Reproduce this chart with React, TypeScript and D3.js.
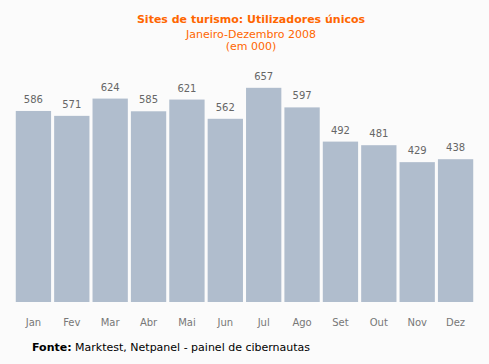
import React from "react";
import * as d3 from "d3";

const months = ["Jan", "Fev", "Mar", "Abr", "Mai", "Jun", "Jul", "Ago", "Set", "Out", "Nov", "Dez"];
const visitors = [586, 571, 624, 585, 621, 562, 657, 597, 492, 481, 429, 438];
const titleLines = ["Sites de turismo: Utilizadores únicos", "Janeiro-Dezembro 2008", "(em 000)"];

const W = 489;
const H = 364;
const FONT = "Verdana, 'DejaVu Sans', sans-serif";

export default function App() {
  const x = d3.scaleBand<string>().domain(months).range([15, 474]).paddingInner(0.08).paddingOuter(0.02);
  const y = d3.scaleLinear().domain([0, 700]).range([302, 302 - 700 * 0.326]);
  return (
    <svg width={W} height={H} style={{ position: "absolute", left: 0, top: 0, background: "#fbfbfb" }}>
      <rect x={0} y={0} width={W} height={H} fill="#fbfbfb" />
      <text x={251} y={23} textAnchor="middle" fontFamily={FONT} fontSize={11} fontWeight="bold" fill="#ff6600">{titleLines[0]}</text>
      <text x={251} y={38} textAnchor="middle" fontFamily={FONT} fontSize={11} fill="#ff6600">{titleLines[1]}</text>
      <text x={251} y={50} textAnchor="middle" fontFamily={FONT} fontSize={11} fill="#ff6600">{titleLines[2]}</text>
      {months.map((m, i) => (
        <g key={m}>
          <rect x={x(m)} y={y(visitors[i])} width={x.bandwidth()} height={y(0) - y(visitors[i])} fill="#b0bdcd" />
          <text x={(x(m) as number) + x.bandwidth() / 2} y={y(visitors[i]) - 8} textAnchor="middle" fontFamily={FONT} fontSize={10} fill="#666">{visitors[i]}</text>
          <text x={(x(m) as number) + x.bandwidth() / 2} y={326} textAnchor="middle" fontFamily={FONT} fontSize={10} fill="#777">{m}</text>
        </g>
      ))}
      <text x={32} y={351} fontFamily={FONT} fontSize={11} fill="#000">
        <tspan fontWeight="bold">Fonte:</tspan> Marktest, Netpanel - painel de cibernautas
      </text>
    </svg>
  );
}
